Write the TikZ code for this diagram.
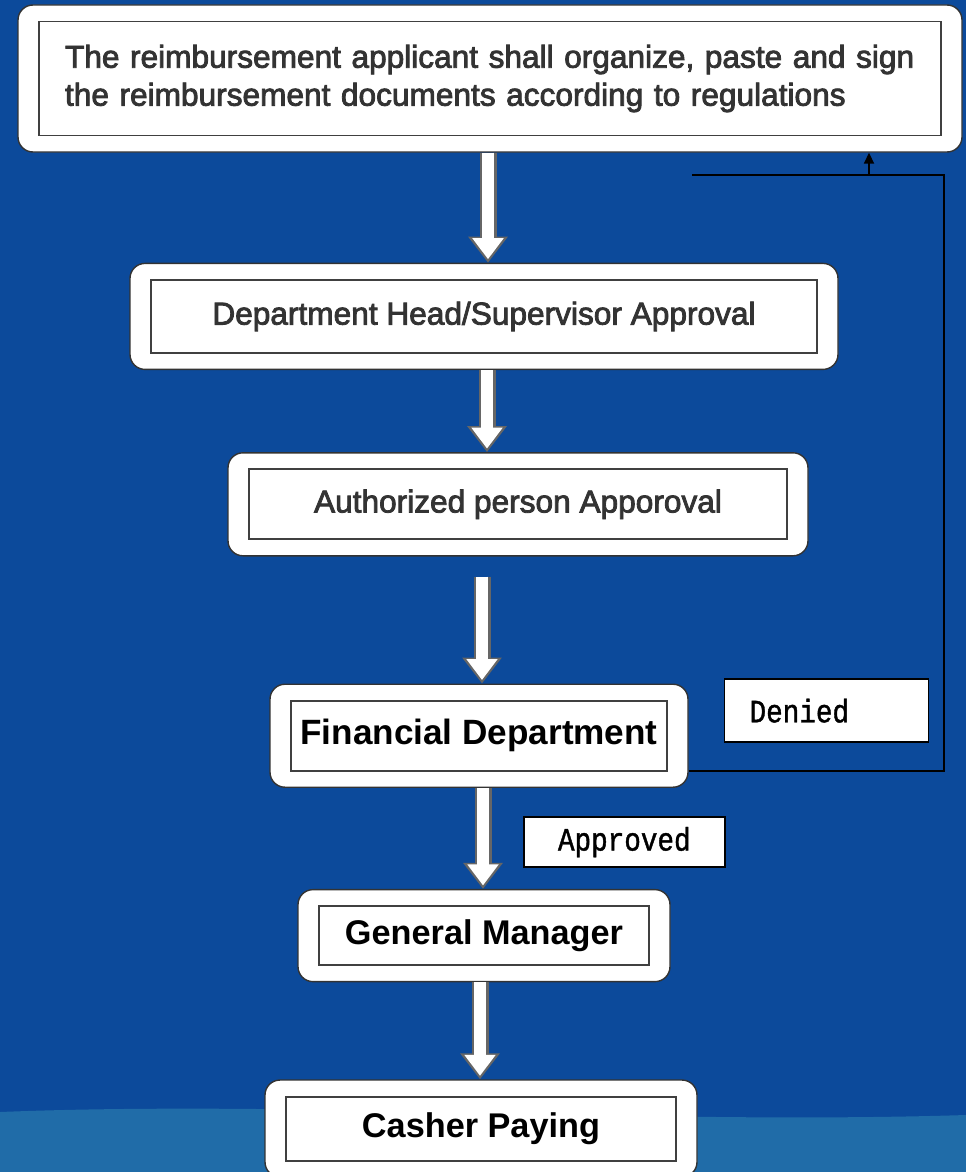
\documentclass[tikz,border=0pt]{standalone}
\usepackage{fontspec}
\setmainfont{Liberation Sans}
\newfontfamily\grayfont[FakeBold=2.6]{Liberation Sans}
\newfontfamily\labelfont[FakeStretch=0.85, FakeBold=1.2]{Liberation Mono}
\usepackage{tikz}
\usetikzlibrary{arrows.meta, positioning}
\definecolor{bgblue}{RGB}{12,74,155}
\definecolor{bandblue}{RGB}{32,108,168}
\definecolor{textgray}{RGB}{51,51,51}
\tikzstyle{stepbox} = [rectangle, rounded corners=0.3cm, draw=black!80, line width=0.8pt, fill=white, text centered,
	path picture={\draw[black!75, line width=1.1pt, sharp corners] ([shift={(0.42cm,-0.33cm)}]path picture bounding box.north west) rectangle ([shift={(-0.42cm,0.33cm)}]path picture bounding box.south east);}]
\tikzstyle{graytext} = [font=\grayfont\fontsize{18}{21.6}\selectfont, text=textgray]
\tikzstyle{blacktext} = [font=\fontsize{19.5}{23}\selectfont\bfseries, text=black]
\tikzstyle{tag} = [rectangle, draw=black, line width=1pt, fill=white, font=\labelfont\fontsize{18.5}{20}\selectfont]
\tikzstyle{blockarrow} = [line width=0.34cm, draw=black!60, -{Triangle[length=0.52cm, width=0.76cm]},
	postaction={draw=white, line width=0.24cm, shorten >=0.07cm, -{Triangle[length=0.42cm, width=0.6cm]}}]
\tikzstyle{arrow} = [line width=1pt, -{Triangle[length=0.22cm, width=0.2cm]}]

\begin{document}
\begin{tikzpicture}[node distance=2cm and 1cm, inner sep=0.2cm]
				% background
				\fill[bgblue] (0,0) rectangle (19.32,-23.44);
				\fill[bandblue] (0,-22.24) .. controls (6,-22.0) and (13,-22.5) .. (19.32,-22.3) -- (19.32,-23.44) -- (0,-23.44) -- cycle;
				\useasboundingbox (0,0) rectangle (19.32,-23.44);
				% steps
				\node (apply) [stepbox, minimum width=18.88cm, minimum height=2.94cm, text width=17cm, inner xsep=0.94cm, align=left, graytext] at (9.8,-1.57) {The reimbursement applicant shall organize, paste and sign\\the reimbursement documents according to regulations};
				\node (dept_head) [stepbox, minimum width=14.16cm, minimum height=2.12cm, graytext, below=2.2cm of apply, xshift=-0.12cm] {Department Head/Supervisor Approval};
				\node (authorized) [stepbox, minimum width=11.6cm, minimum height=2.06cm, graytext, below=1.64cm of dept_head, xshift=0.68cm] {Authorized person Apporoval};
				\node (financial) [stepbox, minimum width=8.36cm, minimum height=2.06cm, blacktext, font=\fontsize{20}{24}\selectfont\bfseries, below=2.54cm of authorized, xshift=-0.78cm] {Financial Department};
				\node (manager) [stepbox, minimum width=7.44cm, minimum height=1.84cm, blacktext, below=2.02cm of financial, xshift=0.1cm] {General Manager};
				\node (paying) [stepbox, minimum width=8.64cm, minimum height=1.94cm, blacktext, below=1.94cm of manager, xshift=-0.06cm] {Casher Paying};
				% labels
				\node (denied) [tag, minimum width=4.08cm, minimum height=1.26cm, text width=3.08cm, inner xsep=0.5cm, align=left, right=0.7cm of financial, yshift=0.5cm] {Denied};
				\node (approved) [tag, minimum width=4.02cm, minimum height=0.94cm, below left=1.46cm and -0.04cm of denied] {Approved};
				% flow
				\draw [blockarrow] ([xshift=-0.04cm]apply.south) -- ([xshift=-0.04cm]apply.south |- dept_head.north);
				\draw [blockarrow] ([xshift=0.06cm]dept_head.south) -- ([xshift=0.06cm]dept_head.south |- authorized.north);
				\draw [blockarrow] ([xshift=-0.72cm, yshift=-0.4cm]authorized.south) -- ([xshift=-0.72cm]authorized.south |- financial.north);
				\draw [blockarrow] ([xshift=0.08cm]financial.south) -- ([xshift=0.08cm]financial.south |- manager.north);
				\draw [blockarrow] ([xshift=-0.08cm]manager.south) -- ([xshift=-0.08cm]manager.south |- paying.north);
				% denied loop
				\coordinate (loop_corner) at (18.88,-3.5);
				\coordinate (loop_end) at (13.84,-3.5);
				\coordinate (loop_up) at (17.38,-3.5);
				\draw [line width=1pt] ([yshift=-0.71cm]financial.east) -| (loop_corner) -- (loop_end);
				\draw [arrow] (loop_up) -- (loop_up |- apply.south);
			\end{tikzpicture}
\end{document}
